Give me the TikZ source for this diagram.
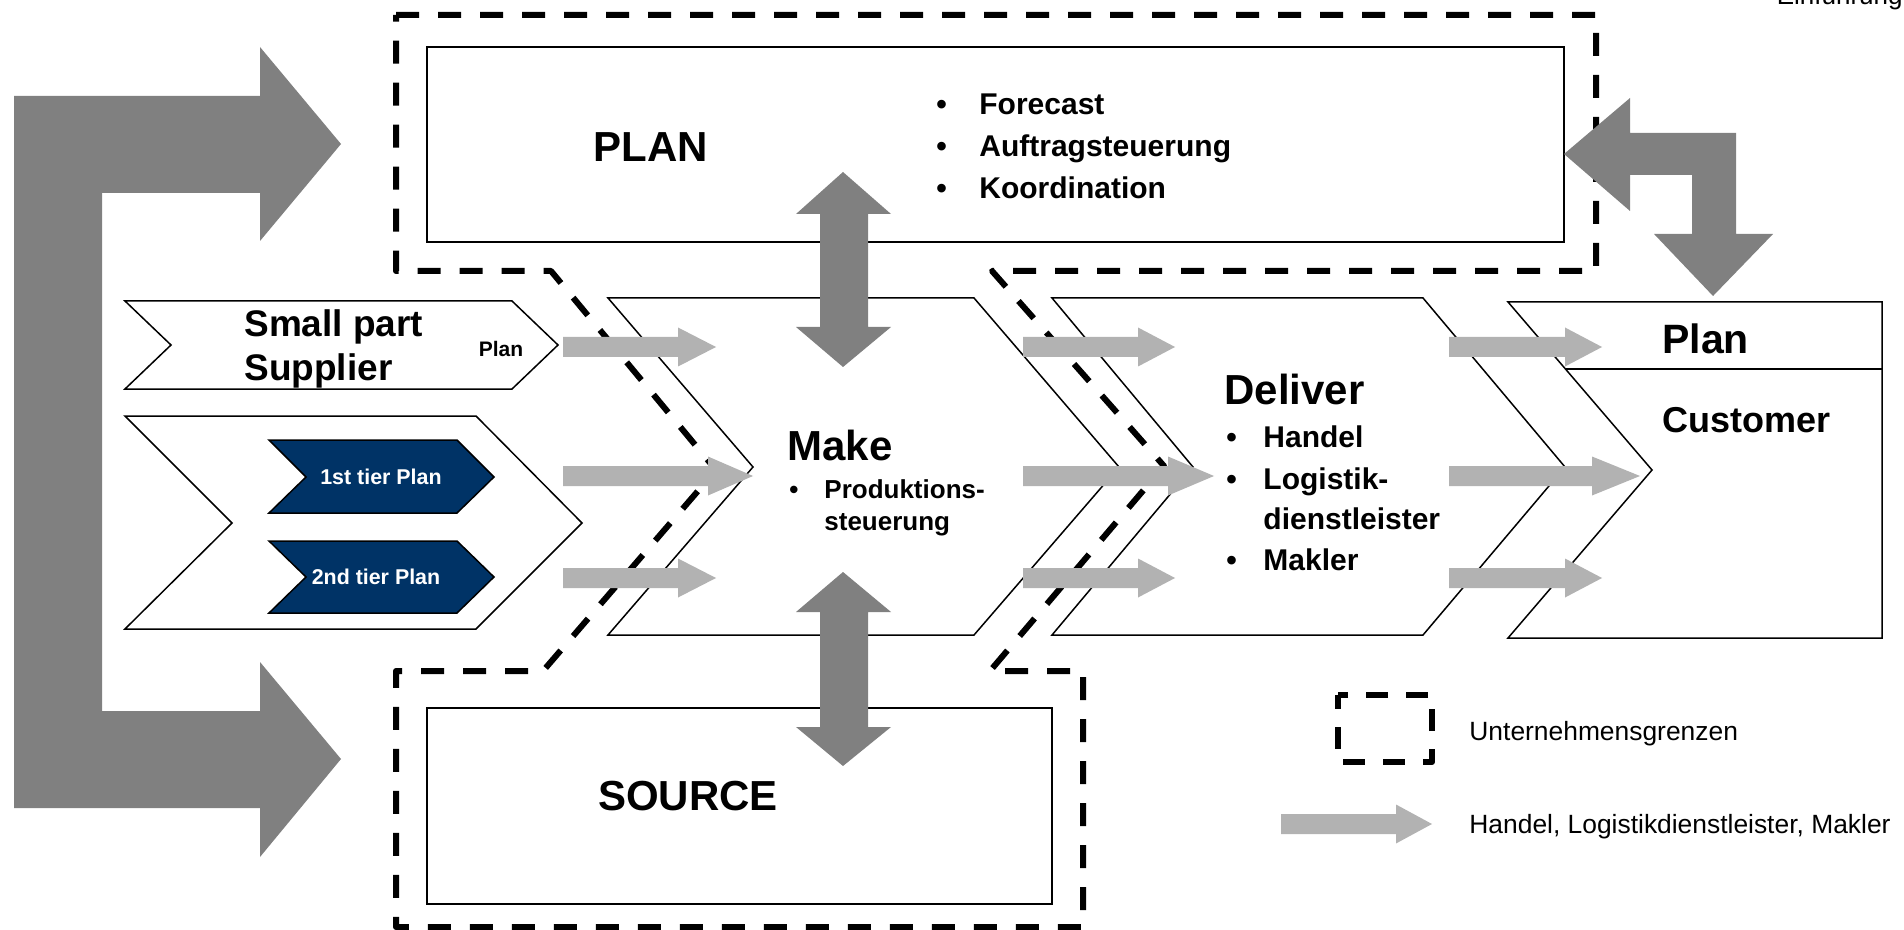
\documentclass[tikz,border=0pt]{standalone}
\usepackage{fontspec}
\setmainfont{Liberation Sans}
\usepackage{tikz}
\definecolor{bigGray}{RGB}{128,128,128}
\definecolor{flowGray}{RGB}{178,178,178}
\definecolor{tierBlue}{RGB}{0,51,102}
\tikzset{chev/.style = {draw, line width = 0.75pt, fill = white}}
\tikzset{box/.style = {draw, line width = 1pt}}
\tikzset{border/.style = {draw, line width = 3pt, line join = round,
                          dash pattern = on 11.5pt off 9.5pt}}
\tikzset{tier/.style = {draw, line width = 0.75pt, fill = tierBlue}}
\tikzset{title/.style = {inner sep = 0, font = \fontsize{21}{25}\selectfont\bfseries}}
\tikzset{item/.style = {inner sep = 0, anchor = base west,
                        font = \fontsize{15}{18}\selectfont\bfseries}}
\tikzset{legend/.style = {inner sep = 0, anchor = base west,
                          font = \fontsize{13.2}{16}\selectfont}}

\begin{document}
\begin{tikzpicture}[x = 0.5pt, y = -0.5pt]
      \useasboundingbox (0, 0) rectangle (1904, 930);
      \clip (0, 0) rectangle (1904, 930);

      % supplier side
      \draw [chev] (125, 301) -- (512, 301) -- (558, 345) -- (512, 389) -- (125, 389) -- (171, 345) -- cycle;
      \draw [chev] (125, 416) -- (476, 416) -- (582, 523) -- (476, 629) -- (125, 629) -- (232, 523) -- cycle;
      \draw [tier] (269, 440) -- (457, 440) -- (494, 477) -- (457, 513) -- (269, 513) -- (306, 477) -- cycle;
      \draw [tier] (269, 541) -- (457, 541) -- (494, 577) -- (457, 613) -- (269, 613) -- (306, 577) -- cycle;

      % process chain
      \draw [chev] (608, 298) -- (974, 298) -- (1119, 467) -- (974, 635) -- (608, 635) -- (753, 467) -- cycle;
      \draw [chev] (1052, 298) -- (1423, 298) -- (1565, 467) -- (1423, 635) -- (1052, 635) -- (1193, 467) -- cycle;
      \draw [chev] (1508, 302) -- (1882, 302) -- (1882, 638) -- (1508, 638) -- (1652, 470) -- cycle;
      \draw [chev] (1565, 369) -- (1882, 369);

      \draw [box] (427, 47) rectangle (1564, 242);
      \draw [box] (427, 708) rectangle (1052, 904);

      % company boundary
      \draw [border] (396, 15) -- (1596, 15) -- (1596, 271) -- (992, 271) -- (1164, 466)
                     -- (990, 671) -- (1083, 671) -- (1083, 927) -- (396, 927) -- (396, 671)
                     -- (543, 671) -- (716, 470) -- (551, 271) -- (396, 271) -- cycle;

      % feedback arrows
      \fill [bigGray] (14, 96) -- (260, 96) -- (260, 47) -- (341, 144) -- (260, 241) -- (260, 193)
                      -- (102, 193) -- (102, 711) -- (260, 711) -- (260, 662) -- (341, 759)
                      -- (260, 857) -- (260, 808) -- (14, 808) -- cycle;
      \fill [bigGray] (1564, 154) -- (1630, 98) -- (1630, 133) -- (1736, 133) -- (1736, 234)
                      -- (1773, 234) -- (1713, 296) -- (1654, 234) -- (1692, 234) -- (1692, 175)
                      -- (1630, 175) -- (1630, 211) -- cycle;
      \foreach \a/\b/\c/\d in {172/214/327/367, 572/612/727/766}
        \fill [bigGray] (843, \a) -- (891, \b) -- (868, \b) -- (868, \c) -- (891, \c) -- (843, \d)
                        -- (796, \c) -- (820, \c) -- (820, \b) -- (796, \b) -- cycle;

      % material flow
      \foreach \t/\h/\p/\y in {563/678/716/347, 563/708/753/476, 563/678/716/578,
                               1023/1138/1175/347, 1023/1168/1214/476, 1023/1138/1175/578,
                               1449/1565/1602/347, 1449/1592/1640/476, 1449/1565/1602/578,
                               1281/1396/1432/824}
        \fill [flowGray] (\t, \y - 10) -- (\h, \y - 10) -- (\h, \y - 19.5) -- (\p, \y)
                         -- (\h, \y + 19.5) -- (\h, \y + 10) -- (\t, \y + 10) -- cycle;

      \draw [border, dash pattern = on 11pt off 9pt, dash phase = 4pt] (1338, 695) rectangle (1432, 762);

      % labels
      \node [title, anchor = base] (plan) at (651, 162) {PLAN};
      \node [title, anchor = base] (source) at (688, 810) {SOURCE};
      \node [title, anchor = base west] (make) at (787, 460) {Make};
      \node [title, anchor = base west] (deliver) at (1224, 404) {Deliver};
      \foreach \txt [count = \i] in {Forecast, Auftragsteuerung, Koordination} {
        \node [item] at (936, 73 + 42 * \i) {\textbullet};
        \node [item] (planitem\i) at (979, 73 + 42 * \i) {\txt};
      }
      \node [item, font = \fontsize{13}{16}\selectfont\bfseries] at (789, 498) {\textbullet};
      \node [item, font = \fontsize{13}{16}\selectfont\bfseries] (makeitem1) at (824, 498) {Produktions-};
      \node [item, font = \fontsize{13}{16}\selectfont\bfseries] (makeitem2) at (824, 530) {steuerung};
      \node [item] at (1226, 447) {\textbullet};
      \node [item] (handel) at (1263, 447) {Handel};
      \node [item] at (1226, 489) {\textbullet};
      \node [item] (logistik) at (1263, 489) {Logistik-};
      \node [item] (dienst) at (1263, 529) {dienstleister};
      \node [item] at (1226, 570) {\textbullet};
      \node [item] (makler) at (1263, 570) {Makler};

      \node [item, font = \fontsize{18.5}{22}\selectfont\bfseries] (small) at (244, 336) {Small part};
      \node [item, font = \fontsize{18.5}{22}\selectfont\bfseries] (supplier) at (244, 380) {Supplier};
      \node [item, anchor = base, font = \fontsize{10.5}{12}\selectfont\bfseries] (supplan) at (501, 357) {Plan};
      \node [inner sep = 0, text = white, font = \fontsize{10.7}{12}\selectfont\bfseries] (tier1) at (381, 477) {1st tier Plan};
      \node [inner sep = 0, text = white, font = \fontsize{10.7}{12}\selectfont\bfseries] (tier2) at (376, 577) {2nd tier Plan};
      \node [item, font = \fontsize{20.5}{24}\selectfont\bfseries] (custplan) at (1662, 354) {Plan};
      \node [item, font = \fontsize{18}{22}\selectfont\bfseries] (customer) at (1662, 432) {Customer};

      \node [legend] (leg1) at (1469, 740) {Unternehmensgrenzen};
      \node [legend] (leg2) at (1469, 833) {Handel, Logistikdienstleister, Makler};
      \node [legend, anchor = base east, font = \fontsize{13}{16}\selectfont] (chapter) at (1903, 5) {Einführung};
\end{tikzpicture}
\end{document}
